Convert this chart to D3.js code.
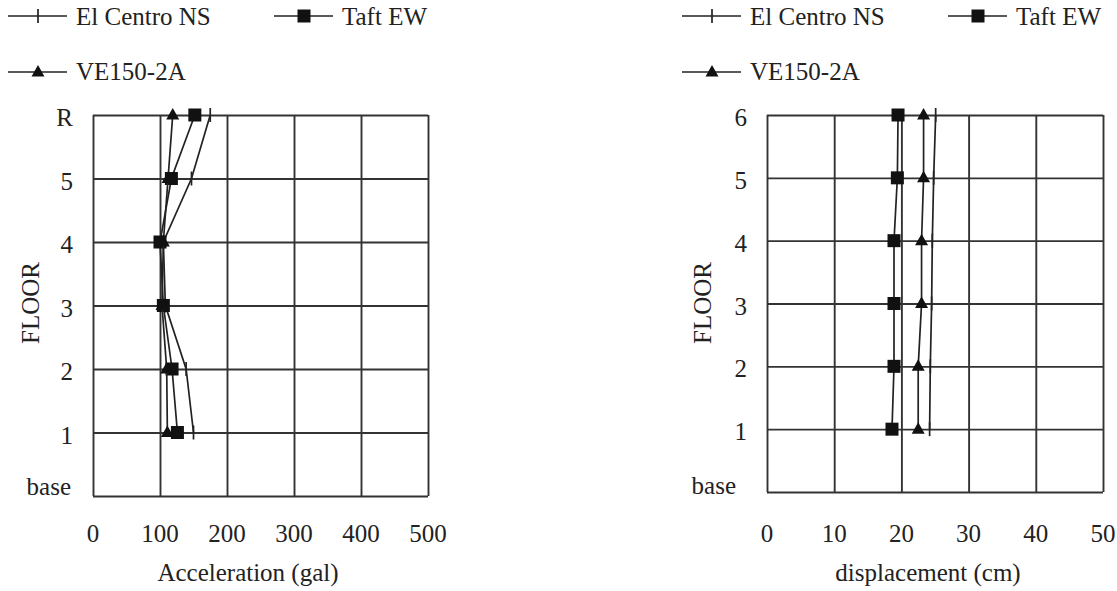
<!DOCTYPE html>
<html>
<head>
<meta charset="utf-8">
<script src="https://cdn.jsdelivr.net/npm/d3@7"></script>
<style>
  body { margin: 0; background: #fff; }
  svg { display: block; }
  svg text { font-family: "Liberation Serif", "DejaVu Serif", serif; }
</style>
</head>
<body>
<svg id="chart" width="1117" height="591"></svg>
<script>
// floor categories, bottom to top
const accFloors = ['base', '1', '2', '3', '4', '5', 'R'];
const dispFloors = ['base', '1', '2', '3', '4', '5', '6'];

// peak response per floor, floor 1 upward
const elCentroAcc = [150, 139, 108, 105, 147, 175];
const taftAcc = [126, 118, 105, 100, 117, 152];
const veAcc = [111, 110, 103, 105, 112, 119];

const elCentroDisp = [24.2, 24.3, 24.5, 24.6, 24.8, 25.1];
const taftDisp = [18.6, 18.9, 18.9, 18.9, 19.4, 19.5];
const veDisp = [22.5, 22.5, 23.0, 23.0, 23.3, 23.3];

const accTicks = [0, 100, 200, 300, 400, 500];
const dispTicks = [0, 10, 20, 30, 40, 50];

const seriesNames = ['El Centro NS', 'Taft EW', 'VE150-2A'];
const markerTypes = ['tick', 'square', 'triangle'];

const ink = '#222';
const gridColor = '#333';
const serif = '"Liberation Serif", "DejaVu Serif", serif';

const svg = d3.select('#chart');

function drawMarker(g, type, x, y) {
  if (type === 'tick') {
    g.append('line')
      .attr('x1', x).attr('x2', x)
      .attr('y1', y - 7).attr('y2', y + 7)
      .attr('stroke', ink).attr('stroke-width', 1.7);
  } else if (type === 'square') {
    g.append('rect')
      .attr('x', x - 6.5).attr('y', y - 6.5)
      .attr('width', 13).attr('height', 13)
      .attr('fill', '#111');
  } else {
    g.append('path')
      .attr('d', `M${x},${y - 7}L${x + 6.5},${y + 4.5}L${x - 6.5},${y + 4.5}Z`)
      .attr('fill', '#111');
  }
}

function addText(g, x, y, str, anchor) {
  return g.append('text')
    .attr('x', x)
    .attr('y', y)
    .attr('text-anchor', anchor || 'start')
    .attr('font-family', serif)
    .attr('font-size', 25)
    .attr('fill', ink)
    .text(str);
}

function legend(lx) {
  const g = svg.append('g').attr('class', 'legend');
  const items = [
    {x: lx, y: 16, ty: 25},
    {x: lx + 266, y: 16, ty: 25},
    {x: lx, y: 72, ty: 80}
  ];
  items.forEach((it, i) => {
    g.append('line')
      .attr('x1', it.x).attr('x2', it.x + 59)
      .attr('y1', it.y).attr('y2', it.y)
      .attr('stroke', ink).attr('stroke-width', 1.7);
    drawMarker(g, markerTypes[i], it.x + 30, it.y);
    addText(g, it.x + 68, it.ty, seriesNames[i]);
  });
}

function panel(cfg) {
  const xScale = d3.scaleLinear()
    .domain([cfg.ticks[0], cfg.ticks[cfg.ticks.length - 1]])
    .range([cfg.left, cfg.right]);

  const yScale = d3.scalePoint()
    .domain(cfg.floors)
    .range([cfg.bottom, cfg.top]);

  const g = svg.append('g');

  // vertical grid from the x axis
  g.append('g')
    .attr('transform', `translate(0,${cfg.bottom})`)
    .call(d3.axisBottom(xScale)
      .tickValues(cfg.ticks)
      .tickSize(-(cfg.bottom - cfg.top))
      .tickFormat(''))
    .call(a => a.select('.domain').remove())
    .call(a => a.selectAll('line').attr('stroke', gridColor).attr('stroke-width', 1.9));

  // horizontal grid from the y axis
  g.append('g')
    .attr('transform', `translate(${cfg.left},0)`)
    .call(d3.axisLeft(yScale)
      .tickSize(-(cfg.right - cfg.left))
      .tickFormat(''))
    .call(a => a.select('.domain').remove())
    .call(a => a.selectAll('line').attr('stroke', gridColor).attr('stroke-width', 1.9));

  // floor labels
  cfg.floors.forEach(d => {
    const isBase = d === 'base';
    addText(g,
      isBase ? cfg.left - cfg.baseGap : cfg.left - 20,
      yScale(d) + (isBase ? cfg.baseDy : 11),
      d, 'end');
  });

  // x tick labels
  cfg.ticks.forEach(d => addText(g, xScale(d), 542, d, 'middle'));

  addText(g, cfg.titleX, 581, cfg.title, 'middle');

  addText(g, 0, 0, 'FLOOR', 'middle')
    .attr('transform', `translate(${cfg.floorX},303) rotate(-90)`);

  // series lines, floor 1 upward
  const floorsUp = cfg.floors.slice(1);
  const line = d3.line()
    .x(d => xScale(d[0]))
    .y(d => yScale(d[1]));

  cfg.series.forEach((values, i) => {
    const pts = values.map((v, k) => [v, floorsUp[k]]);
    g.append('path')
      .attr('d', line(pts))
      .attr('fill', 'none')
      .attr('stroke', ink)
      .attr('stroke-width', 1.7);
    pts.forEach(p => drawMarker(g, markerTypes[i], xScale(p[0]), yScale(p[1])));
  });
}

panel({
  left: 93, right: 428, top: 115, bottom: 496,
  floors: accFloors, ticks: accTicks,
  series: [elCentroAcc, taftAcc, veAcc],
  title: 'Acceleration (gal)', titleX: 248, floorX: 39,
  baseGap: 22, baseDy: -1
});

panel({
  left: 767, right: 1103, top: 115, bottom: 492,
  floors: dispFloors, ticks: dispTicks,
  series: [elCentroDisp, taftDisp, veDisp],
  title: 'displacement (cm)', titleX: 928, floorX: 711,
  baseGap: 31, baseDy: 2
});

legend(8);
legend(682);
</script>
</body>
</html>
